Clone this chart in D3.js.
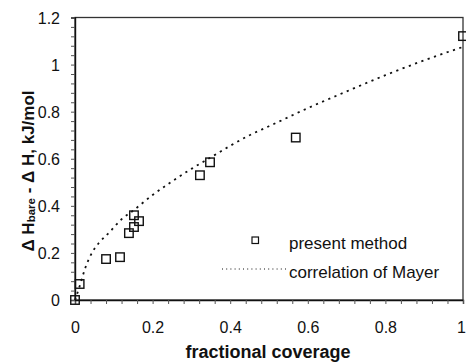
<!DOCTYPE html>
<html><head><meta charset="utf-8">
<script src="https://cdn.jsdelivr.net/npm/d3@7"></script>
<style>body{margin:0;background:#fff}svg{display:block}</style>
</head><body>
<svg id="c" width="466" height="364"></svg>
<script>
// data
const methodX = [0.0, 0.012, 0.08, 0.116, 0.139, 0.152, 0.152, 0.165, 0.322, 0.348, 0.569, 1.0];
const methodY = [0.0, 0.068, 0.174, 0.182, 0.284, 0.36, 0.31, 0.335, 0.53, 0.585, 0.69, 1.121];
const mayerX = [0, 0.003, 0.013, 0.026, 0.047, 0.064, 0.09, 0.12, 0.15, 0.2, 0.25, 0.3, 0.35, 0.4, 0.45, 0.5, 0.6, 0.7, 0.8, 0.9, 1.0];
const mayerY = [0, 0.014, 0.064, 0.134, 0.21, 0.247, 0.29, 0.343, 0.38, 0.446, 0.504, 0.557, 0.606, 0.655, 0.70, 0.738, 0.815, 0.886, 0.955, 1.018, 1.075];
const xTicks = [0, 0.2, 0.4, 0.6, 0.8, 1];
const yTicks = [0, 0.2, 0.4, 0.6, 0.8, 1, 1.2];
const legendLabels = ["present method", "correlation of Mayer"];

const svg = d3.select("#c");
const L = 75, R = 463, T = 17.5, B = 300;
const x = d3.scaleLinear().domain([0, 1]).range([L, R]);
const y = d3.scaleLinear().domain([0, 1.2]).range([B, T]);
const font = "'Liberation Sans', Arial, sans-serif";

// minor ticks every 0.04
const minorX = d3.range(0, 1.0001, 0.04);
const minorY = d3.range(0, 1.2001, 0.04);

// frame
svg.append("rect").attr("x", L).attr("y", T).attr("width", R - L).attr("height", B - T)
  .attr("fill", "none").attr("stroke", "#333").attr("stroke-width", 1.3);

// axes
const gx = svg.append("g").attr("transform", `translate(0,${B})`)
  .call(d3.axisBottom(x).tickValues(minorX).tickSize(4).tickFormat(""));
gx.select(".domain").attr("stroke", "#111").attr("stroke-width", 1.4);
gx.selectAll(".tick line").attr("stroke", "#555").attr("stroke-width", 1);
const gxl = svg.append("g").attr("transform", `translate(0,${B})`)
  .call(d3.axisBottom(x).tickValues(xTicks).tickSize(0).tickPadding(0).tickFormat(d => String(+d.toFixed(1))));
gxl.select(".domain").remove();
gxl.selectAll("text").attr("y", 33).attr("dy", 0).attr("font-family", font).attr("font-size", 16).attr("fill", "#111")
  .attr("dx", d => d === 1 ? -2 : 0);

const gy = svg.append("g").attr("transform", `translate(${L},0)`)
  .call(d3.axisLeft(y).tickValues(minorY).tickSize(4).tickFormat(""));
gy.select(".domain").attr("stroke", "#111").attr("stroke-width", 1.4);
gy.selectAll(".tick line").attr("stroke", "#555").attr("stroke-width", 1);
const gyl = svg.append("g").attr("transform", `translate(${L},0)`)
  .call(d3.axisLeft(y).tickValues(yTicks).tickSize(0).tickPadding(15).tickFormat(d => String(+d.toFixed(1))));
gyl.select(".domain").remove();
gyl.selectAll("text").attr("font-family", font).attr("font-size", 16).attr("fill", "#111").attr("dy", "0.36em");

// mayer curve
const curvePts = mayerX.map((v, i) => [v, mayerY[i]]);
svg.append("path").datum(curvePts)
  .attr("d", d3.line().x(d => x(d[0])).y(d => y(d[1])).curve(d3.curveMonotoneX))
  .attr("fill", "none").attr("stroke", "#111").attr("stroke-width", 1.8)
  .attr("stroke-dasharray", "2.2,4.5");

// points
const pts = methodX.map((v, i) => [v, methodY[i]]);
const s = 8.5;
svg.append("g").selectAll("rect").data(pts).join("rect")
  .attr("x", d => x(d[0]) - s / 2).attr("y", d => y(d[1]) - s / 2)
  .attr("width", s).attr("height", s)
  .attr("fill", "none").attr("stroke", "#111").attr("stroke-width", 1.4);

// legend
const lg = svg.append("g");
lg.append("rect").attr("x", 252).attr("y", 237).attr("width", 6.5).attr("height", 6.5)
  .attr("fill", "none").attr("stroke", "#111").attr("stroke-width", 1.2);
lg.append("text").attr("x", 289).attr("y", 249).text(legendLabels[0])
  .attr("font-family", font).attr("font-size", 17).attr("fill", "#111");
lg.append("line").attr("x1", 222).attr("x2", 287).attr("y1", 269).attr("y2", 269)
  .attr("stroke", "#111").attr("stroke-width", 1).attr("stroke-dasharray", "1,3.2");
lg.append("text").attr("x", 289).attr("y", 278).text(legendLabels[1])
  .attr("font-family", font).attr("font-size", 17).attr("fill", "#111");

// x title
svg.append("text").attr("x", 268).attr("y", 358).attr("text-anchor", "middle")
  .attr("font-family", font).attr("font-size", 18).attr("font-weight", "bold").attr("fill", "#111")
  .text("fractional coverage");

// y title
const yt = svg.append("text").attr("transform", "translate(34,171) rotate(-90)")
  .attr("text-anchor", "middle").attr("font-family", font).attr("font-size", 17)
  .attr("font-weight", "bold").attr("fill", "#111");
yt.append("tspan").text("Δ H");
yt.append("tspan").attr("font-size", 11.5).attr("dy", 1).text("bare");
yt.append("tspan").attr("dy", -1).text(" - Δ H, kJ/mol");
</script>
</body></html>
